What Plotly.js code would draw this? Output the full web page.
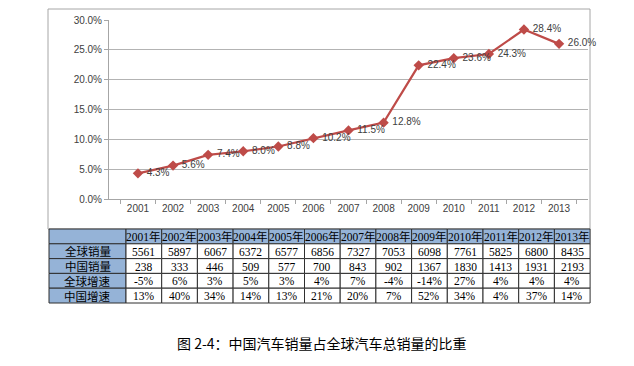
<!DOCTYPE html>
<html>
<head>
<meta charset="utf-8">
<script src="https://cdn.plot.ly/plotly-3.0.1.min.js"></script>
<style>html,body{margin:0;padding:0;background:#fff;}#chart{width:634px;height:366px;}</style>
</head>
<body>
<div id="chart"></div>
<script>
const years = ['2001','2002','2003','2004','2005','2006','2007','2008','2009','2010','2011','2012','2013'];
const shareValues = [4.3, 5.6, 7.4, 8.0, 8.8, 10.2, 11.5, 12.8, 22.4, 23.6, 24.3, 28.4, 26.0];
const rowLabels = ['全球销量', '中国销量', '全球增速', '中国增速'];
const globalSales = [5561, 5897, 6067, 6372, 6577, 6856, 7327, 7053, 6098, 7761, 5825, 6800, 8435];
const chinaSales = [238, 333, 446, 509, 577, 700, 843, 902, 1367, 1830, 1413, 1931, 2193];
const globalGrowth = ['-5%', '6%', '3%', '5%', '3%', '4%', '7%', '-4%', '-14%', '27%', '4%', '4%', '4%'];
const chinaGrowth = ['13%', '40%', '34%', '14%', '13%', '21%', '20%', '7%', '52%', '34%', '4%', '37%', '14%'];
const captionText = '图 2-4：中国汽车销量占全球汽车总销量的比重';

const W = 634, H = 366;
const px = v => v / W;
const py = v => 1 - v / H;

const lineColor = '#BE4B48';
const blue = '#95B3D7';
const tableFont = {family: 'Liberation Serif, Noto Sans CJK SC, serif', size: 11.5, color: '#000000'};

const lineTrace = {
  type: 'scatter',
  mode: 'lines+markers+text',
  x: years,
  y: shareValues,
  text: shareValues.map(v => '\u00A0' + v.toFixed(1) + '%'),
  textposition: 'middle right',
  textfont: {family: 'Liberation Sans, DejaVu Sans, sans-serif', size: 10, color: '#404040'},
  line: {color: lineColor, width: 2.2},
  marker: {symbol: 'diamond', size: 8, color: lineColor},
  cliponaxis: false,
  hoverinfo: 'none',
  xaxis: 'x', yaxis: 'y'
};

// Table geometry (pixels)
const tLeft = 49, labelW = 77, colW = 35.7, tTop = 229, rowH = 14.8;
const shapes = [{
  type: 'rect', xref: 'paper', yref: 'paper',
  x0: px(48), x1: px(590), y0: py(229), y1: py(9),
  line: {color: '#A6A6A6', width: 1}, fillcolor: 'rgba(0,0,0,0)', layer: 'below'
}];
const annotations = [];

const tableRows = [
  [''].concat(years.map(y => y + '年')),
  [rowLabels[0]].concat(globalSales.map(String)),
  [rowLabels[1]].concat(chinaSales.map(String)),
  [rowLabels[2]].concat(globalGrowth),
  [rowLabels[3]].concat(chinaGrowth)
];

tableRows.forEach((row, r) => {
  row.forEach((val, c) => {
    const x0 = c === 0 ? tLeft : tLeft + labelW + (c - 1) * colW;
    const x1 = c === 0 ? tLeft + labelW : x0 + colW;
    const y0 = tTop + r * rowH, y1 = y0 + rowH;
    const isBlue = (r === 0 || c === 0);
    shapes.push({
      type: 'rect', xref: 'paper', yref: 'paper',
      x0: px(x0), x1: px(x1), y0: py(y1), y1: py(y0),
      fillcolor: isBlue ? blue : '#FFFFFF',
      line: {color: '#2F2F2F', width: 1}, layer: 'above'
    });
    if (val !== '') {
      annotations.push({
        xref: 'paper', yref: 'paper',
        x: px((x0 + x1) / 2), y: py((y0 + y1) / 2 + 0.5),
        xanchor: 'center', yanchor: 'middle', showarrow: false,
        text: val, font: tableFont
      });
    }
  });
});

annotations.push({
  xref: 'paper', yref: 'paper', x: px(322), y: py(343),
  xanchor: 'center', yanchor: 'middle', showarrow: false,
  text: captionText,
  font: {family: 'Noto Sans CJK SC, sans-serif', size: 14, color: '#000000'}
});

const layout = {
  width: W, height: H,
  margin: {l: 0, r: 0, t: 0, b: 0},
  paper_bgcolor: '#FFFFFF',
  plot_bgcolor: '#FFFFFF',
  showlegend: false,
  xaxis: {
    type: 'category',
    domain: [px(109), px(588)],
    anchor: 'y',
    showgrid: false,
    showline: true, linecolor: '#A6A6A6', linewidth: 1,
    ticks: 'outside', tickson: 'boundaries', ticklen: 4, tickcolor: '#A6A6A6',
    tickfont: {family: 'Liberation Sans, DejaVu Sans, sans-serif', size: 10, color: '#404040'},
    fixedrange: true
  },
  yaxis: {
    domain: [py(199), py(20)],
    anchor: 'x',
    range: [0, 30],
    dtick: 5,
    ticksuffix: '%',
    tickformat: '.1f',
    showgrid: true, gridcolor: '#B3B3B3', gridwidth: 1,
    showline: true, linecolor: '#A6A6A6', linewidth: 1,
    ticks: 'outside', ticklen: 4, tickcolor: '#A6A6A6',
    zeroline: false,
    tickfont: {family: 'Liberation Sans, DejaVu Sans, sans-serif', size: 10, color: '#404040'},
    fixedrange: true
  },
  shapes: shapes,
  annotations: annotations
};

Plotly.newPlot('chart', [lineTrace], layout, {displayModeBar: false, staticPlot: true});
</script>
</body>
</html>
